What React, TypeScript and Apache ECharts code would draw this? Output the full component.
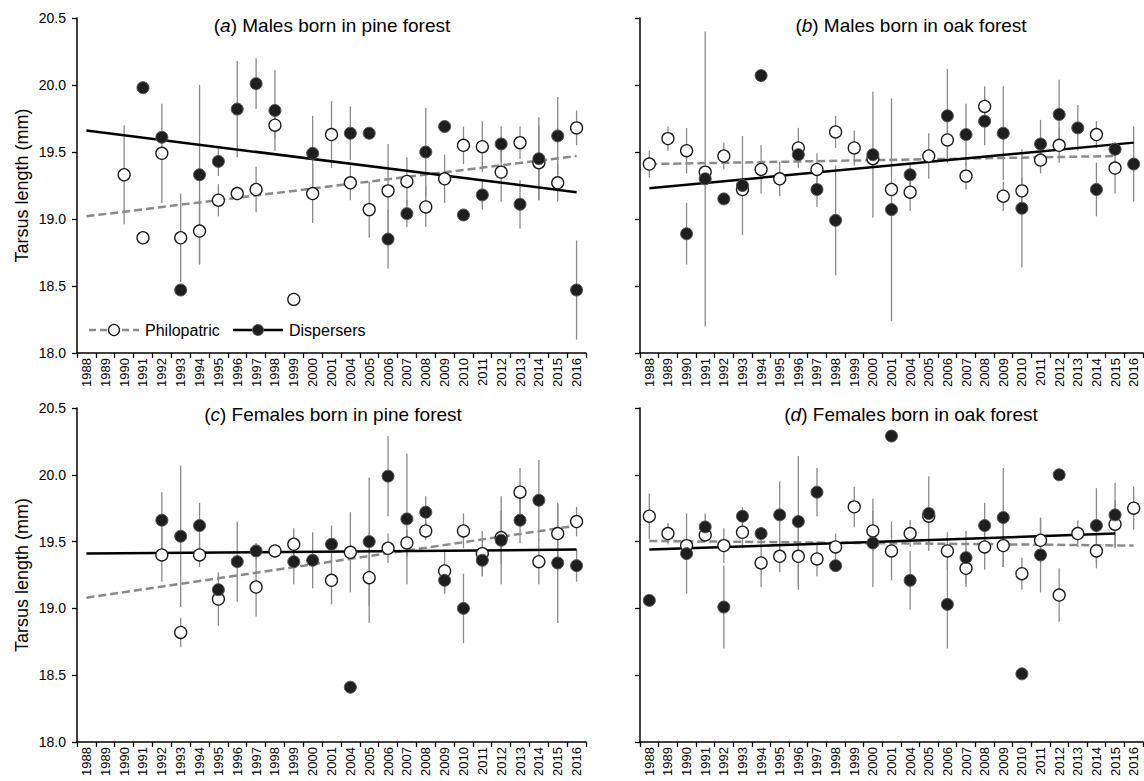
import React, { useEffect, useRef } from 'react';
import * as echarts from 'echarts';

const years = ['1988', '1989', '1990', '1991', '1992', '1993', '1994', '1995', '1996', '1997', '1998', '1999', '2000', '2001', '2004', '2005', '2006', '2007', '2008', '2009', '2010', '2011', '2012', '2013', '2014', '2015', '2016'];
const yTicks = { min: 18, max: 20.5, step: 0.5 };

// (a) Males born in pine forest
const aPhilo = [null, null, 19.33, 18.86, 19.49, 18.86, 18.91, 19.14, 19.19, 19.22, 19.70, 18.40, 19.19, 19.63, 19.27, 19.07, 19.21, 19.28, 19.09, 19.30, 19.55, 19.54, 19.35, 19.57, 19.42, 19.27, 19.68];
const aPhiloErr = [null, null, 0.37, 0, 0.37, 0.33, 0.24, 0.12, 0.05, 0.17, 0.10, 0, 0.22, 0.25, 0.13, 0.21, 0.35, 0.18, 0.15, 0.18, 0.14, 0.19, 0.22, 0.12, 0.28, 0.14, 0.13];
const aDisp = [null, null, null, 19.98, 19.61, 18.47, 19.33, 19.43, 19.82, 20.01, 19.81, null, 19.49, null, 19.64, 19.64, 18.85, 19.04, 19.50, 19.69, 19.03, 19.18, 19.56, 19.11, 19.45, 19.62, 18.47];
const aDispErr = [null, null, null, 0, 0, 0, 0.67, 0.11, 0.36, 0.19, 0.30, null, 0.28, null, 0.20, 0, 0.22, 0.10, 0.33, 0, 0, 0.11, 0.13, 0.18, 0.31, 0.29, 0.37];
const aPhiloTrend = [19.02, 19.47];
const aDispTrend = [19.66, 19.20];

// (b) Males born in oak forest
const bPhilo = [19.41, 19.60, 19.51, 19.35, 19.47, 19.22, 19.37, 19.30, 19.53, 19.37, 19.65, 19.53, 19.45, 19.22, 19.20, 19.47, 19.59, 19.32, 19.84, 19.17, 19.21, 19.44, 19.55, null, 19.63, 19.38, null];
const bPhiloErr = [0.10, 0.09, 0.17, 0, 0.10, 0, 0.18, 0.13, 0.15, 0.12, 0.12, 0.13, 0, 0, 0.14, 0.17, 0.15, 0.10, 0.15, 0.11, 0.10, 0.10, 0.13, null, 0.10, 0.19, null];
const bDisp = [null, null, 18.89, 19.30, 19.15, 19.25, 20.07, null, 19.48, 19.22, 18.99, null, 19.48, 19.07, 19.33, null, 19.77, 19.63, 19.73, 19.64, 19.08, 19.56, 19.78, 19.68, 19.22, 19.52, 19.41];
const bDispErr = [null, null, 0.23, 1.1, 0, 0.37, 0, null, 0.05, 0.13, 0.41, null, 0.47, 0.83, 0.08, null, 0.35, 0.23, 0.18, 0.35, 0.44, 0.18, 0.26, 0.17, 0.20, 0.05, 0.28];
const bPhiloTrend = [19.41, 19.47];
const bDispTrend = [19.23, 19.57];

// (c) Females born in pine forest
const cPhilo = [null, null, null, null, 19.40, 18.82, 19.40, 19.07, null, 19.16, 19.43, 19.48, null, 19.21, 19.42, 19.23, 19.45, 19.49, 19.58, 19.28, 19.58, 19.41, 19.53, 19.87, 19.35, 19.56, 19.65];
const cPhiloErr = [null, null, null, null, 0.2, 0.11, 0.09, 0.2, null, 0.22, 0, 0.12, null, 0.18, 0.3, 0.34, 0.11, 0.1, 0.07, 0.16, 0.13, 0.17, 0.2, 0.18, 0.17, 0.22, 0.11];
const cDisp = [null, null, null, null, 19.66, 19.54, 19.62, 19.14, 19.35, 19.43, null, 19.35, 19.36, 19.48, 18.41, 19.50, 19.99, 19.67, 19.72, 19.21, 19.00, 19.36, 19.51, 19.66, 19.81, 19.34, 19.32];
const cDispErr = [null, null, null, null, 0.21, 0.53, 0.17, 0.05, 0.3, 0.06, null, 0.17, 0.21, 0.14, 0, 0.48, 0.3, 0.49, 0.12, 0.1, 0.26, 0.12, 0.33, 0.17, 0.3, 0.45, 0.12];
const cPhiloTrend = [19.08, 19.62];
const cDispTrend = [19.41, 19.44];

// (d) Females born in oak forest
const dPhilo = [19.69, 19.56, 19.47, 19.55, 19.47, 19.57, 19.34, 19.39, 19.39, 19.37, 19.46, 19.76, 19.58, 19.43, 19.56, 19.69, 19.43, 19.30, 19.46, 19.47, 19.26, 19.51, 19.10, 19.56, 19.43, 19.63, 19.75];
const dPhiloErr = [0.17, 0.08, 0.05, 0.05, 0.13, 0.12, 0.18, 0.12, 0.25, 0.13, 0.1, 0.15, 0.15, 0.22, 0.1, 0, 0.14, 0.14, 0.17, 0.16, 0.12, 0.16, 0.2, 0.1, 0.13, 0.18, 0.16];
const dDisp = [19.06, null, 19.41, 19.61, 19.01, 19.69, 19.56, 19.70, 19.65, 19.87, 19.32, null, 19.49, 20.29, 19.21, 19.71, 19.03, 19.38, 19.62, 19.68, 18.51, 19.40, 20.00, null, 19.62, 19.70, null];
const dDispErr = [0, null, 0.3, 0.1, 0.31, 0.07, 0.05, 0.25, 0.49, 0.18, 0, null, 0.33, 0, 0.22, 0.28, 0.33, 0.2, 0.17, 0.37, 0, 0.28, 0, null, 0.28, 0.24, null];
const dPhiloTrend = [19.505, 19.47];
const dDispTrend = [19.44, 19.56];

const panelLetters = ['a', 'b', 'c', 'd'];
const panelTitles = ['Males born in pine forest', 'Males born in oak forest', 'Females born in pine forest', 'Females born in oak forest'];
const legendNames = ['Philopatric', 'Dispersers'];
const yAxisTitle = 'Tarsus length (mm)';

const FONT = 'Arial, "Liberation Sans", Helvetica, sans-serif';

type Arr = (number | null)[];

function lastIndex(arr: Arr) {
  for (let i = arr.length - 1; i >= 0; i--) if (arr[i] != null) return i;
  return arr.length - 1;
}

export default function App() {
  const ref = useRef<HTMLDivElement>(null);

  useEffect(() => {
    document.body.style.margin = '0';
    if (!ref.current) return;
    const chart = echarts.init(ref.current, undefined, { renderer: 'svg' });

    const panels = [
      { p: aPhilo, pe: aPhiloErr, d: aDisp, de: aDispErr, pt: aPhiloTrend, dt: aDispTrend },
      { p: bPhilo, pe: bPhiloErr, d: bDisp, de: bDispErr, pt: bPhiloTrend, dt: bDispTrend },
      { p: cPhilo, pe: cPhiloErr, d: cDisp, de: cDispErr, pt: cPhiloTrend, dt: cDispTrend },
      { p: dPhilo, pe: dPhiloErr, d: dDisp, de: dDispErr, pt: dPhiloTrend, dt: dDispTrend },
    ];

    const grids = [
      { left: 77, top: 18, width: 509, height: 335 },
      { left: 640, top: 18, width: 503, height: 335 },
      { left: 77, top: 408, width: 509, height: 334 },
      { left: 640, top: 408, width: 503, height: 334 },
    ];

    const xAxes = grids.map((_, k) => ({
      type: 'category',
      gridIndex: k,
      data: years,
      boundaryGap: true,
      axisLine: { lineStyle: { color: '#000', width: 1.5 } },
      axisTick: { show: true, interval: 0, alignWithLabel: false, length: 5, lineStyle: { color: '#000', width: 1.3 } },
      axisLabel: { interval: 0, rotate: 90, fontSize: 13, color: '#000', fontFamily: FONT, margin: 5 },
      splitLine: { show: false },
    }));

    const yAxes = grids.map((_, k) => ({
      type: 'value',
      gridIndex: k,
      min: yTicks.min,
      max: yTicks.max,
      interval: yTicks.step,
      name: k % 2 === 0 ? yAxisTitle : '',
      nameLocation: 'middle',
      nameGap: 46,
      nameTextStyle: { fontSize: 18, color: '#000', fontFamily: FONT },
      axisLine: { show: true, lineStyle: { color: '#000', width: 1.5 } },
      axisTick: { show: true, length: 5, lineStyle: { color: '#000', width: 1.3 } },
      axisLabel: {
        show: k % 2 === 0,
        fontSize: 14,
        color: '#000',
        fontFamily: FONT,
        margin: 11,
        showMinLabel: true,
        showMaxLabel: true,
        formatter: (v: number) => v.toFixed(1),
      },
      splitLine: { show: false },
    }));

    const errRender = (params: any, api: any) => {
      const x = api.value(0);
      const lo = api.value(1);
      const hi = api.value(2);
      const p1 = api.coord([x, hi]);
      const p2 = api.coord([x, lo]);
      return {
        type: 'line',
        shape: { x1: p1[0], y1: p1[1], x2: p2[0], y2: p2[1] },
        style: { stroke: '#8a8a8a', lineWidth: 1.3 },
      };
    };

    const bars = (vals: Arr, errs: Arr) => {
      const out: number[][] = [];
      vals.forEach((v, i) => {
        const e = errs[i];
        if (v != null && e != null && e > 0) out.push([i, v - e, v + e]);
      });
      return out;
    };
    const pts = (vals: Arr) => {
      const out: number[][] = [];
      vals.forEach((v, i) => {
        if (v != null) out.push([i, v]);
      });
      return out;
    };

    const series: any[] = [];
    panels.forEach((pn, k) => {
      series.push({
        type: 'custom', xAxisIndex: k, yAxisIndex: k, silent: true, z: 1,
        renderItem: errRender, encode: { x: 0, y: [1, 2] }, data: bars(pn.p, pn.pe),
      });
      series.push({
        type: 'custom', xAxisIndex: k, yAxisIndex: k, silent: true, z: 1,
        renderItem: errRender, encode: { x: 0, y: [1, 2] }, data: bars(pn.d, pn.de),
      });
      series.push({
        type: 'line', name: legendNames[0], xAxisIndex: k, yAxisIndex: k, z: 2, symbol: 'none', silent: true,
        data: [[0, pn.pt[0]], [lastIndex(pn.p), pn.pt[1]]],
        lineStyle: { color: '#8a8a8a', width: 2.5, type: [8, 4] },
      });
      series.push({
        type: 'line', name: legendNames[1], xAxisIndex: k, yAxisIndex: k, z: 2, symbol: 'none', silent: true,
        data: [[0, pn.dt[0]], [lastIndex(pn.d), pn.dt[1]]],
        lineStyle: { color: '#000', width: 2.5 },
      });
      series.push({
        type: 'scatter', name: legendNames[0], xAxisIndex: k, yAxisIndex: k, z: 3, symbol: 'circle', symbolSize: 12,
        data: pts(pn.p),
        itemStyle: { color: '#ffffff', borderColor: '#1a1a1a', borderWidth: 1.3, opacity: 1 },
      });
      series.push({
        type: 'scatter', name: legendNames[1], xAxisIndex: k, yAxisIndex: k, z: 4, symbol: 'circle', symbolSize: 12,
        data: pts(pn.d),
        itemStyle: { color: '#1e1e1e', borderColor: '#555', borderWidth: 1, opacity: 1 },
      });
    });

    const titleCenters = [
      { x: 332, y: 25 },
      { x: 911, y: 25 },
      { x: 333, y: 414 },
      { x: 911, y: 414 },
    ];

    const graphic: any[] = titleCenters.map((c, k) => ({
      type: 'text',
      x: c.x,
      y: c.y,
      style: {
        text: '({i|' + panelLetters[k] + '}) ' + panelTitles[k],
        align: 'center',
        textAlign: 'center',
        verticalAlign: 'middle',
        textVerticalAlign: 'middle',
        fontSize: 19,
        fontFamily: FONT,
        fill: '#000',
        rich: { i: { fontStyle: 'italic', fontSize: 19, fontFamily: FONT, fill: '#000', color: '#000' } },
      },
    }));

    // legend in panel (a)
    const ly = 330;
    graphic.push(
      { type: 'line', shape: { x1: 89, y1: ly, x2: 139, y2: ly }, style: { stroke: '#8a8a8a', lineWidth: 2.5, lineDash: [7, 4] } },
      { type: 'circle', shape: { cx: 114, cy: ly, r: 5.5 }, style: { fill: '#fff', stroke: '#1a1a1a', lineWidth: 1.3 } },
      { type: 'text', x: 145, y: ly, style: { text: legendNames[0], fontSize: 16, fontFamily: FONT, fill: '#000', verticalAlign: 'middle', textVerticalAlign: 'middle' } },
      { type: 'line', shape: { x1: 233, y1: ly, x2: 283, y2: ly }, style: { stroke: '#000', lineWidth: 2.5 } },
      { type: 'circle', shape: { cx: 258, cy: ly, r: 5.5 }, style: { fill: '#1e1e1e', stroke: '#555', lineWidth: 1 } },
      { type: 'text', x: 289, y: ly, style: { text: legendNames[1], fontSize: 16, fontFamily: FONT, fill: '#000', verticalAlign: 'middle', textVerticalAlign: 'middle' } },
    );

    chart.setOption({
      animation: false,
      backgroundColor: '#fff',
      textStyle: { fontFamily: FONT },
      grid: grids.map((g) => ({ ...g, containLabel: false })),
      xAxis: xAxes,
      yAxis: yAxes,
      series,
      graphic,
    });

    return () => chart.dispose();
  }, []);

  return <div ref={ref} style={{ width: 1144, height: 781 }} />;
}
